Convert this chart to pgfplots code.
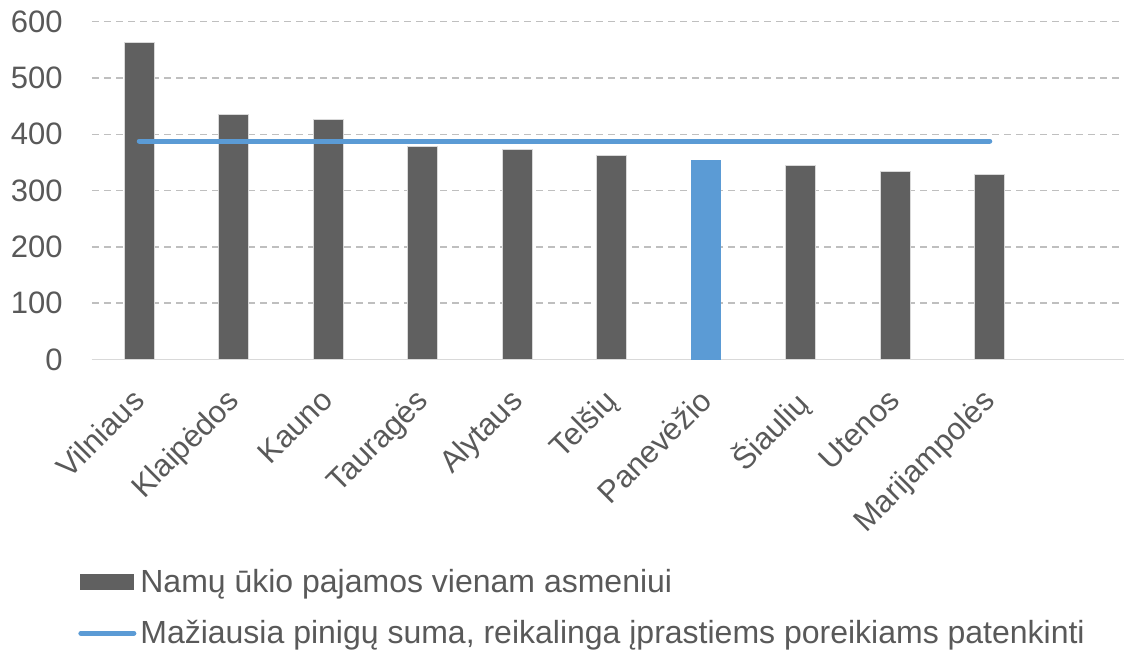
\documentclass[border=0pt]{standalone}
\usepackage{pgfplots}
\pgfplotsset{compat=1.18}
\usepackage{fontspec}
\setmainfont{Liberation Sans}
\definecolor{bargray}{HTML}{606060}
\definecolor{lineblue}{HTML}{5B9BD5}
\definecolor{txt}{HTML}{595959}
\definecolor{gridc}{HTML}{BFBFBF}
\definecolor{axl}{HTML}{D9D9D9}
\begin{document}
\begin{tikzpicture}
\begin{axis}[
  at={(0,0)}, anchor=south west,
  scale only axis, width=519.75pt, height=168.9pt,
  xmin=-0.5, xmax=10.5, ymin=0, ymax=600,
  xtick={0,1,2,3,4,5,6,7,8,9},
  xticklabels={Vilniaus,Klaipėdos,Kauno,Tauragės,Alytaus,Telšių,Panevėžio,Šiaulių,Utenos,Marijampolės},
  ytick={0,100,200,300,400,500,600},
  axis x line*=bottom, axis y line*=left,
  x axis line style={axl, line width=0.75pt, -},
  y axis line style={draw=none},
  major tick length=0pt, tick style={draw=none},
  ymajorgrids,
  major grid style={gridc, line width=0.75pt, dash pattern=on 3.5pt off 2.5pt},
  ticklabel style={font=\fontsize{15.5}{18}\selectfont, text=txt},
  /pgf/number format/assume math mode=true,
  yticklabel style={inner sep=0pt, anchor=east},
  yticklabel shift=14.5pt,
  xticklabel style={xshift=-4.5pt, yshift=5.5pt, rotate=45, anchor=north east, inner sep=0pt},
  xticklabel shift=19pt,
  legend style={at={(axis description cs:-0.0135,-0.607)}, anchor=north west,
    draw=none, fill=none, inner sep=0pt, row sep=8.5pt,
    font=\fontsize{16}{19}\selectfont, text=txt,
    nodes={inner sep=2pt}},
  legend cell align=left,
]
\addplot[ybar, bar width=15pt, bar shift=0pt, fill=bargray, draw=axl, line width=0.5pt,
  legend image code/.code={\fill[bargray] (0pt,-3.75pt) rectangle (26.5pt,3.75pt);}]
  coordinates {(0,563)(1,435)(2,426)(3,378)(4,373)(5,362)(7,344)(8,334)(9,329)};
\addlegendentry{Namų ūkio pajamos vienam asmeniui}
\addplot[ybar, bar width=15pt, bar shift=0pt, fill=lineblue, draw=none, forget plot]
  coordinates {(6,354)};
\addplot[lineblue, line width=2.5pt, line cap=round,
  legend image code/.code={\draw[lineblue, line width=2.5pt, line cap=round] (0pt,0pt) -- (26.5pt,0pt);}]
  coordinates {(0,388)(9,388)};
\addlegendentry{Mažiausia pinigų suma, reikalinga įprastiems poreikiams patenkinti}
\end{axis}
\pgfresetboundingbox
\path (-46pt,-144.75pt) rectangle (516pt,179.75pt);
\end{tikzpicture}
\end{document}
